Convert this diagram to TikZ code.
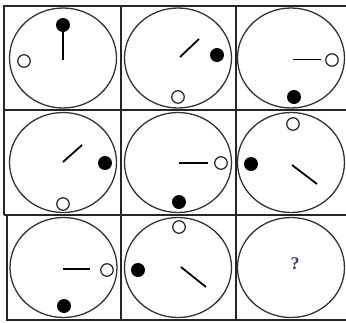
\documentclass[tikz,border=0pt]{standalone}
\usepackage{fontspec}
\setmainfont{Liberation Serif}
\usetikzlibrary{shapes.geometric}
\definecolor{qcol}{RGB}{70,55,140}
\tikzset{
  grid/.style={draw=black!85, line width=1.4pt},
  ring/.style={ellipse, draw=black!80, line width=1.3pt, minimum width=107pt, minimum height=100pt, inner sep=0pt, outer sep=0pt},
  bdot/.style={circle, fill=black, minimum size=14pt, inner sep=0pt, outer sep=0pt},
  wdot/.style={circle, draw=black!85, fill=white, line width=1.2pt, minimum size=12.5pt, inner sep=0pt, outer sep=0pt},
  hand/.style={draw=black, line width=1.8pt},
  qmark/.style={text=qcol, font=\fontsize{18}{18}\selectfont\bfseries, inner sep=0pt}
}
\begin{document}
\begin{tikzpicture}[x=1pt,y=-1pt]
\useasboundingbox (0,0) rectangle (346,322);
% grid
\coordinate (g1) at (4,6);
\coordinate (g2) at (346,6);
\coordinate (g3) at (4,110);
\coordinate (g4) at (346,110);
\coordinate (g5) at (4,215);
\coordinate (g6) at (346,215);
\coordinate (g7) at (7,215);
\coordinate (g8) at (7,320);
\coordinate (g9) at (346,320);
\coordinate (v1a) at (121,6);
\coordinate (v1b) at (121,320);
\coordinate (v2a) at (236,6);
\coordinate (v2b) at (236,320);
\draw[grid] (g2) -- (g1) -- (g5);
\draw[grid] (g3) -- (g4);
\draw[grid] (g5) -- (g6);
\draw[grid] (g7) -- (g8) -- (g9);
\draw[grid] (v1a) -- (v1b);
\draw[grid] (v2a) -- (v2b);
% rings
\node[ring] (r11) at (63,58) {};
\node[ring] (r12) at (178,58) {};
\node[ring] (r13) at (291,58) {};
\node[ring] (r21) at (63,162.5) {};
\node[ring] (r22) at (178,162.5) {};
\node[ring] (r23) at (291,162.5) {};
\node[ring] (r31) at (63.5,267.5) {};
\node[ring] (r32) at (178,267.5) {};
\node[ring] (r33) at (291,267.5) {};
% cell 1,1
\node[bdot] (b11) at (63,25) {};
\node[wdot] (w11) at (24,61) {};
\coordinate (h11) at (63,60);
\draw[hand] (h11) -- (b11.south);
% cell 1,2
\node[bdot] (b12) at (217,55) {};
\node[wdot] (w12) at (178,97) {};
\coordinate (h12a) at (180,57);
\coordinate (h12b) at (199,39);
\draw[hand] (h12a) -- (h12b);
% cell 1,3
\node[bdot] (b13) at (294,97) {};
\node[wdot] (w13) at (332,60) {};
\coordinate (h13a) at (293,59.5);
\coordinate (h13b) at (321,59.5);
\draw[hand] (h13a) -- (h13b);
% cell 2,1
\node[bdot] (b21) at (105,163) {};
\node[wdot] (w21) at (63,204) {};
\coordinate (h21a) at (63,162);
\coordinate (h21b) at (82,145);
\draw[hand] (h21a) -- (h21b);
% cell 2,2
\node[bdot] (b22) at (179,202) {};
\node[wdot] (w22) at (221,163) {};
\coordinate (h22a) at (179,163);
\coordinate (h22b) at (208,163);
\draw[hand] (h22a) -- (h22b);
% cell 2,3
\node[bdot] (b23) at (251,164) {};
\node[wdot] (w23) at (293,124) {};
\coordinate (h23a) at (292,165);
\coordinate (h23b) at (317,184);
\draw[hand] (h23a) -- (h23b);
% cell 3,1
\node[bdot] (b31) at (64,306) {};
\node[wdot] (w31) at (107,270) {};
\coordinate (h31a) at (63,269);
\coordinate (h31b) at (90,269);
\draw[hand] (h31a) -- (h31b);
% cell 3,2
\node[bdot] (b32) at (138,270) {};
\node[wdot] (w32) at (179,227) {};
\coordinate (h32a) at (181,267);
\coordinate (h32b) at (206,287);
\draw[hand] (h32a) -- (h32b);
% cell 3,3
\node[qmark] (q) at (295,264) {?};
\end{tikzpicture}
\end{document}
